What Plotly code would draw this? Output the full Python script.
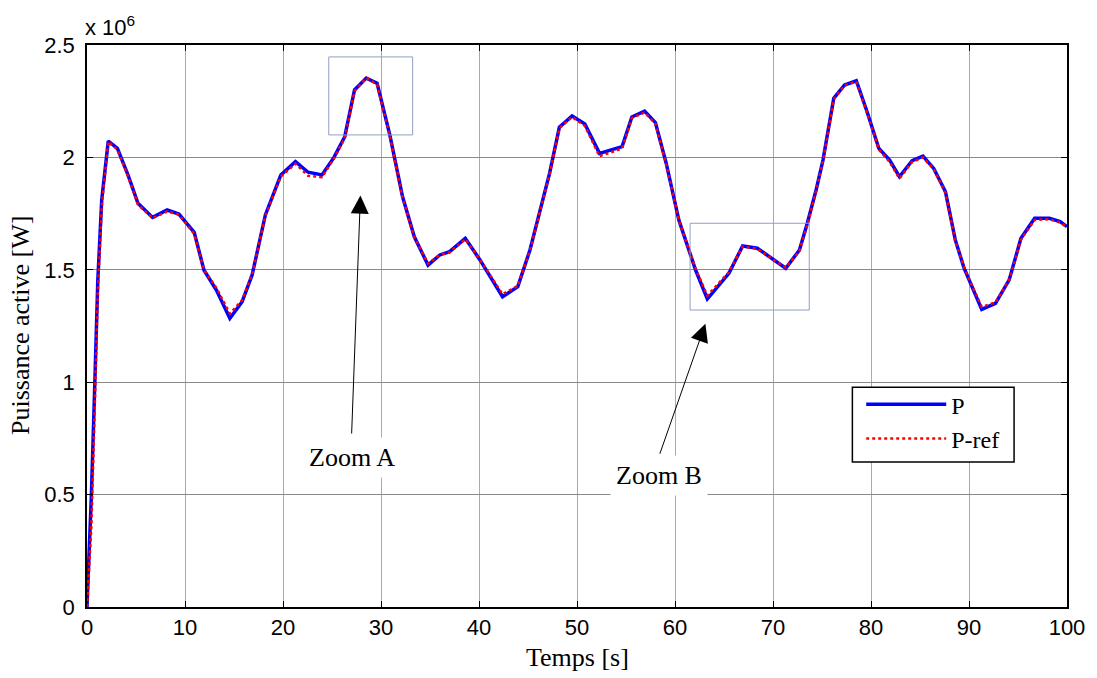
import plotly.graph_objects as go

# Time samples [s]
t = [0, 0.45, 0.8, 1.1, 1.5, 2.17, 3.1, 4.2, 5.2, 6.69, 8.18, 9.38, 10.94, 11.93, 13.2,
     14.58, 15.83, 16.85, 18.2, 19.78, 21.27, 22.56, 23.98, 25.2, 26.3, 27.3, 28.5, 29.6,
     30.9, 32.2, 33.4, 34.8, 36.0, 37.0, 38.6, 40.1, 42.4, 43.96, 45.2, 46.2, 47.2, 48.2,
     49.5, 50.8, 52.3, 54.6, 55.6, 56.9, 58.0, 59.1, 60.4, 62.1, 63.3, 65.5, 66.9, 68.4,
     69.9, 71.3, 72.7, 73.5, 74.4, 75.1, 76.2, 77.3, 78.5, 79.6, 80.8, 81.9, 82.9, 84.2,
     85.3, 86.4, 87.6, 88.6, 89.5, 90.2, 91.3, 92.7, 94.1, 95.3, 96.7, 98.2, 99.3, 100]

# Active power P (x 1e6 W)
P = [0, 0.5, 1.0, 1.45, 1.81, 2.073, 2.04, 1.92, 1.796, 1.733, 1.766, 1.748, 1.667, 1.499, 1.41,
     1.284, 1.358, 1.477, 1.744, 1.922, 1.981, 1.934, 1.922, 2.0, 2.092, 2.30, 2.353, 2.33,
     2.10, 1.825, 1.647, 1.521, 1.566, 1.581, 1.640, 1.544, 1.380, 1.425, 1.588, 1.766, 1.929, 2.134,
     2.184, 2.149, 2.018, 2.048, 2.18, 2.206, 2.155, 1.974, 1.72, 1.499, 1.370, 1.484, 1.606, 1.596,
     1.551, 1.507, 1.588, 1.707, 1.855, 1.988, 2.263, 2.322, 2.341, 2.203, 2.04, 1.988, 1.914, 1.985,
     2.006, 1.951, 1.847, 1.633, 1.507, 1.432, 1.324, 1.351, 1.455, 1.640, 1.729, 1.729, 1.714, 1.692]

# Reference power P-ref (x 1e6 W)
P_ref = [0, 0.36, 0.9, 1.4, 1.78, 2.07, 2.035, 1.915, 1.79, 1.73, 1.76, 1.745, 1.66, 1.50, 1.42,
         1.305, 1.365, 1.48, 1.74, 1.915, 1.972, 1.918, 1.912, 1.995, 2.085, 2.295, 2.353, 2.325,
         2.095, 1.82, 1.645, 1.528, 1.566, 1.578, 1.636, 1.545, 1.392, 1.428, 1.585, 1.76, 1.925, 2.13,
         2.18, 2.14, 2.005, 2.04, 2.175, 2.2, 2.15, 1.97, 1.718, 1.505, 1.385, 1.49, 1.603, 1.594,
         1.548, 1.51, 1.585, 1.70, 1.85, 1.985, 2.258, 2.32, 2.338, 2.198, 2.035, 1.98, 1.906, 1.98,
         2.0, 1.948, 1.842, 1.63, 1.51, 1.44, 1.335, 1.355, 1.455, 1.635, 1.722, 1.725, 1.71, 1.69]

SCALE = 1e6
x_ticks = [0, 10, 20, 30, 40, 50, 60, 70, 80, 90, 100]
y_ticks = [0, 0.5, 1, 1.5, 2, 2.5]
y_tick_labels = ["0", "0.5", "1", "1.5", "2", "2.5"]

# Zoom boxes (t0, t1, v0, v1) and annotations
zoom_boxes = [(24.67, 33.23, 2.10, 2.447), (61.54, 73.7, 1.321, 1.707)]
zoom_labels = ["Zoom A", "Zoom B"]
label_pos = [(27.0, 0.665), (58.4, 0.583)]
arrow_tail = [(27.0, 0.765), (58.4, 0.675)]
arrow_tip = [(27.9, 1.83), (63.1, 1.26)]

fig = go.Figure()
fig.add_trace(go.Scatter(x=t, y=[v * SCALE for v in P], mode="lines", name="P",
                         line=dict(color="#0000ff", width=3.5)))
fig.add_trace(go.Scatter(x=t, y=[v * SCALE for v in P_ref], mode="lines", name="P-ref",
                         line=dict(color="#ff0000", width=2.5, dash="dot")))

for (x0, x1, y0, y1) in zoom_boxes:
    fig.add_shape(type="rect", xref="x", yref="y", x0=x0, x1=x1, y0=y0 * SCALE, y1=y1 * SCALE,
                  line=dict(color="#8f9fc6", width=1), fillcolor="rgba(0,0,0,0)")

# legend frame (paper coords)
fig.add_shape(type="rect", xref="paper", yref="paper", x0=0.781, x1=0.946, y0=0.258, y1=0.391,
              line=dict(color="black", width=1.5), fillcolor="white", layer="above")

annotations = []
for (tx, ty), (hx, hy) in zip(arrow_tail, arrow_tip):
    annotations.append(dict(x=hx, y=hy * SCALE, ax=tx, ay=ty * SCALE, xref="x", yref="y",
                            axref="x", ayref="y", text="", showarrow=True, arrowhead=2,
                            arrowsize=3.6, arrowwidth=1, arrowcolor="black", standoff=0))
for lab, (lx, ly) in zip(zoom_labels, label_pos):
    annotations.append(dict(x=lx, y=ly * SCALE, xref="x", yref="y", text=lab, showarrow=False,
                            font=dict(family="Liberation Serif", size=26, color="black"),
                            bgcolor="white", borderpad=5))

annotations.append(dict(x=0.5, y=0, xref="paper", yref="paper", yshift=-50, text="Temps [s]",
                        showarrow=False, xanchor="center", yanchor="middle",
                        font=dict(family="Liberation Serif", size=26, color="black")))
annotations.append(dict(x=0, y=0.5, xref="paper", yref="paper", xshift=-67, text="Puissance active [W]",
                        showarrow=False, xanchor="center", yanchor="middle", textangle=-90,
                        font=dict(family="Liberation Serif", size=26, color="black")))
annotations.append(dict(x=0, y=1, xref="paper", yref="paper", xshift=-4, yshift=3, text="x 10<sup>6</sup>",
                        showarrow=False, xanchor="left", yanchor="bottom",
                        font=dict(family="Liberation Sans", size=22, color="black")))

fig.update_layout(
    width=1097, height=678,
    margin=dict(l=87, r=28, t=45, b=71),
    paper_bgcolor="white", plot_bgcolor="white",
    annotations=annotations,
    showlegend=True,
    legend=dict(x=0.790, y=0.400, xanchor="left", yanchor="top", bgcolor="rgba(0,0,0,0)",
                borderwidth=0, itemwidth=80,
                font=dict(family="Liberation Serif", size=24, color="black"),
                tracegroupgap=0),
)
fig.update_xaxes(range=[0, 100], tickvals=x_ticks, ticks="inside", ticklen=6, tickcolor="black",
                 showline=True, linecolor="black", linewidth=1.5, mirror="ticks",
                 showgrid=True, gridcolor="#aaaaaa", gridwidth=1, zeroline=False,
                 tickfont=dict(family="Liberation Sans", size=22, color="black"))
fig.update_yaxes(range=[0, 2.5 * SCALE], tickvals=[v * SCALE for v in y_ticks], ticktext=y_tick_labels,
                 ticks="inside", ticklen=6, tickcolor="black", ticklabelstandoff=6,
                 showline=True, linecolor="black", linewidth=1.5, mirror="ticks",
                 showgrid=True, gridcolor="#8a8a8a", gridwidth=1, zeroline=False,
                 tickfont=dict(family="Liberation Sans", size=22, color="black"))

fig.write_html("out.html", config={"displayModeBar": False},
               post_script="document.body.style.margin='0px';")
